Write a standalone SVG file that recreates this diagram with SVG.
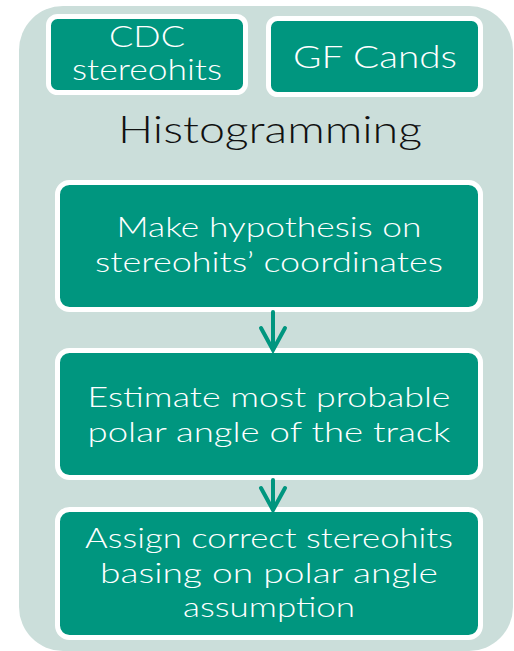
<svg xmlns="http://www.w3.org/2000/svg" width="514" height="651" viewBox="0 0 514 651">
<style>
.box{fill:#00967f;stroke:#ffffff;stroke-width:5}
.t{font-family:"Lato","Liberation Sans",sans-serif;font-weight:300;fill:#ffffff;text-anchor:middle}
.conn{stroke:#00967f;stroke-width:4;fill:none;stroke-linecap:round;stroke-linejoin:miter}
</style>
<rect id="container" x="19" y="6" width="494" height="645" rx="44" fill="#cbdeda"/>
<g id="cdc">
<rect class="box" x="48.5" y="16.5" width="197" height="76" rx="9"/>
<text class="t" font-size="30" x="147" y="47" textLength="76" lengthAdjust="spacingAndGlyphs">CDC</text>
<text class="t" font-size="30" x="147" y="80" textLength="150" lengthAdjust="spacingAndGlyphs">stereohits</text>
</g>
<g id="gf">
<rect class="box" x="268.5" y="18.5" width="212" height="76" rx="9"/>
<text class="t" font-size="31" x="375" y="68" textLength="164" lengthAdjust="spacingAndGlyphs">GF Cands</text>
</g>
<g id="title">
<text x="270" y="143" font-family="Lato,'Liberation Sans',sans-serif" font-weight="300" font-size="38" fill="#111111" text-anchor="middle" textLength="304" lengthAdjust="spacingAndGlyphs">Histogramming</text>
</g>
<g id="n1">
<rect class="box" x="57.5" y="182.5" width="423" height="127" rx="12"/>
<text class="t" font-size="28" x="269" y="237" textLength="305" lengthAdjust="spacingAndGlyphs">Make hypothesis on</text>
<text class="t" font-size="28" x="269" y="272" textLength="348" lengthAdjust="spacingAndGlyphs">stereohits’ coordinates</text>
</g>
<g id="n2">
<rect class="box" x="57.5" y="350.5" width="423" height="127" rx="12"/>
<text class="t" font-size="28" x="269" y="407" textLength="363" lengthAdjust="spacingAndGlyphs">Estimate most probable</text>
<text class="t" font-size="28" x="269" y="442" textLength="363" lengthAdjust="spacingAndGlyphs">polar angle of the track</text>
</g>
<g id="n3">
<rect class="box" x="57.5" y="509.5" width="423" height="128" rx="12"/>
<text class="t" font-size="28" x="269" y="548" textLength="368" lengthAdjust="spacingAndGlyphs">Assign correct stereohits</text>
<text class="t" font-size="28" x="269" y="583" textLength="338" lengthAdjust="spacingAndGlyphs">basing on polar angle</text>
<text class="t" font-size="28" x="269" y="617" textLength="172" lengthAdjust="spacingAndGlyphs">assumption</text>
</g>
<g id="connectors">
<path class="conn" d="M273 312 V348"/>
<path class="conn" d="M261 328 L273 350 L285 328"/>
<path class="conn" d="M273 480 V508"/>
<path class="conn" d="M261 488 L273 510 L285 488"/>
</g>
</svg>
